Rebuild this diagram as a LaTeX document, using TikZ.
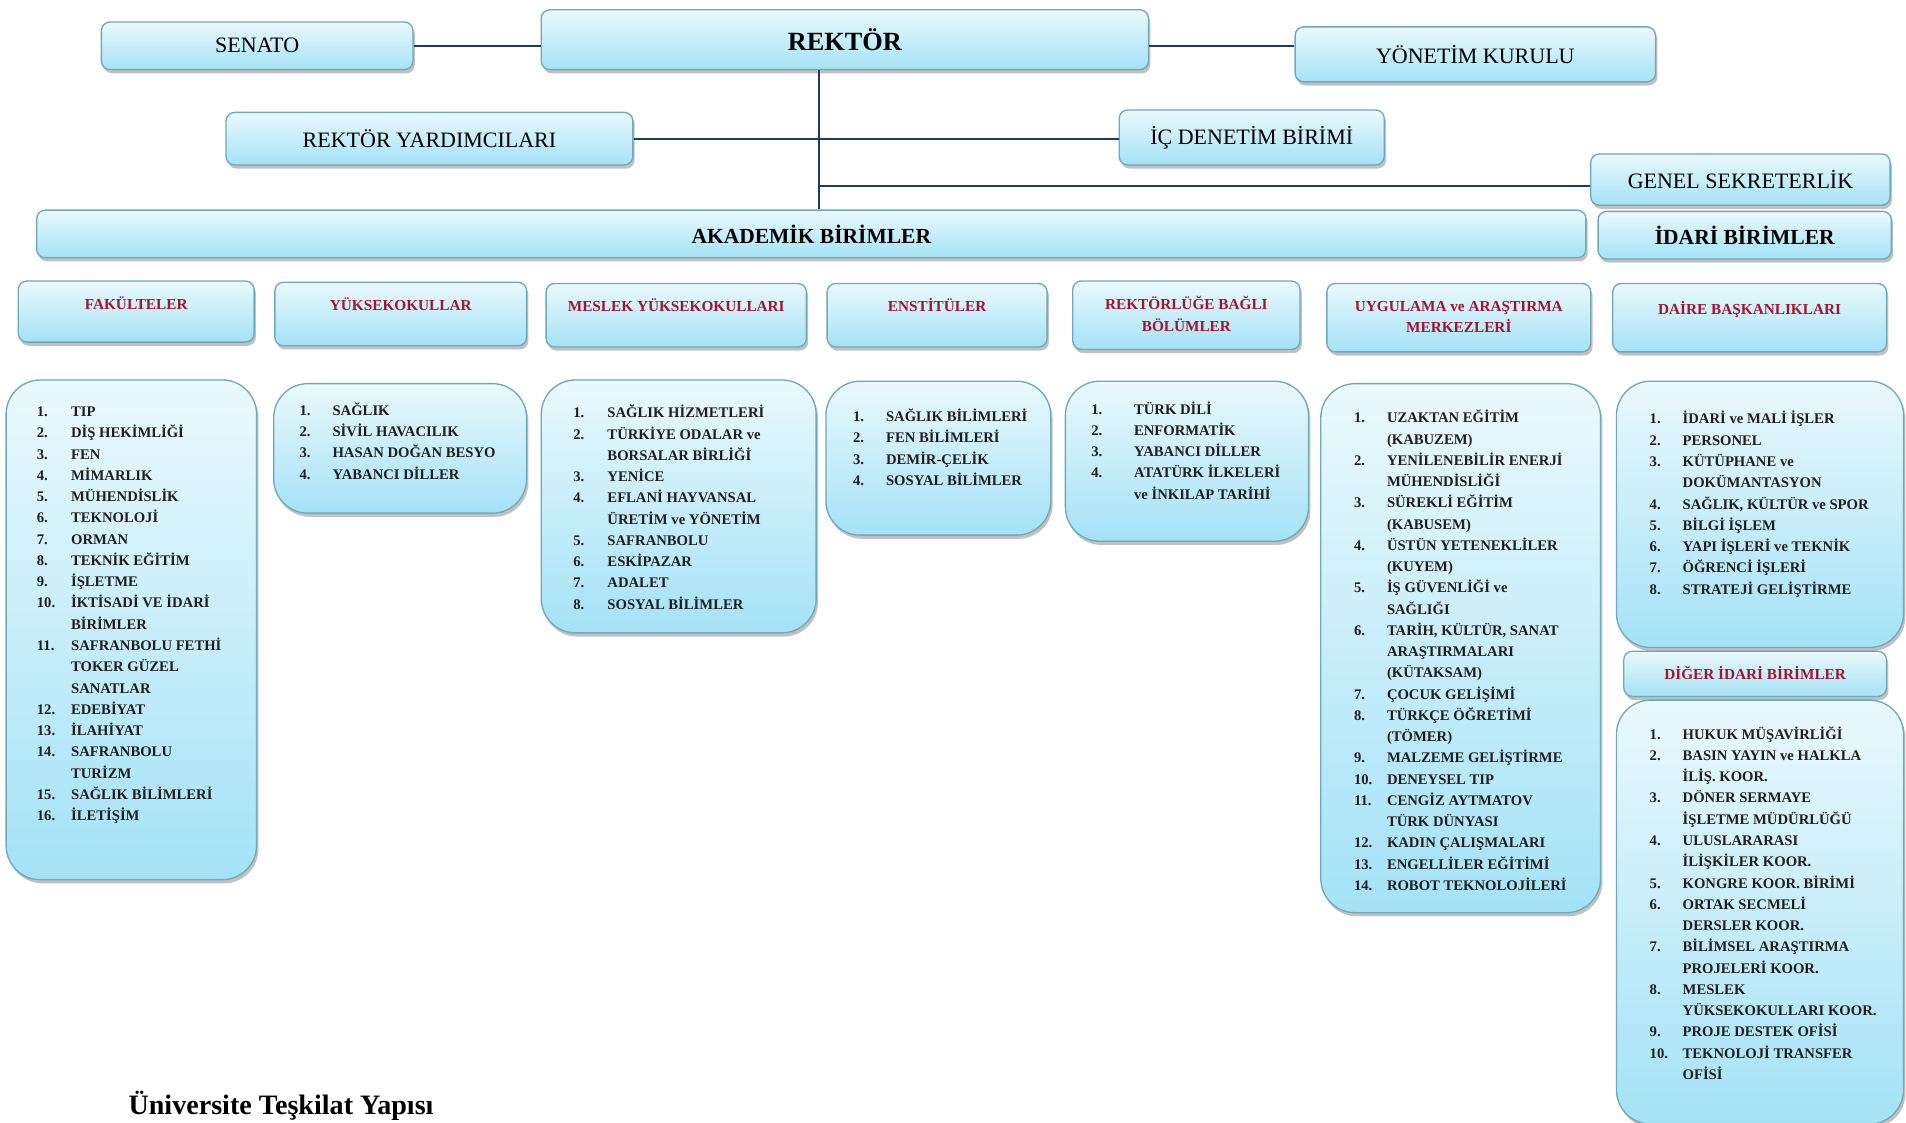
\documentclass[tikz,border=0pt]{standalone}
\usepackage{fontspec}
\setmainfont{Liberation Serif}
\usetikzlibrary{shadows}
\definecolor{boxtop}{HTML}{EAF9FD}
\definecolor{boxbot}{HTML}{A4E2F6}
\definecolor{boxline}{HTML}{6FA9BA}
\definecolor{connc}{HTML}{1F3A64}
\definecolor{hdr}{HTML}{A5142D}
\newlength{\numw}
\newcommand{\nb}[1]{\makebox[\numw][l]{#1}}
\newcommand{\lst}[2]{\setlength{\numw}{#1}\begin{tabular}[t]{@{}l@{}}#2\end{tabular}}
\tikzset{
  box/.style={draw=boxline, line width=1.1pt, top color=boxtop, bottom color=boxbot,
    rounded corners=7pt, inner sep=0pt,
    drop shadow={shadow xshift=1.5pt, shadow yshift=-3pt, opacity=0.4, fill=black!60}},
  listbox/.style={box, rounded corners=28pt},
  conn/.style={draw=connc, line width=1.8pt},
  toptxt/.style={font=\fontsize{18}{20}\selectfont},
  boldtxt/.style={font=\bfseries\fontsize{17.6}{20}\selectfont},
  hdrtxt/.style={text=hdr, font=\bfseries\fontsize{12.5}{17.5}\selectfont, align=center, inner sep=0pt},
  listtxt/.style={anchor=base west, inner sep=0pt, text=black!88, font=\bfseries\fontsize{12}{17.4}\selectfont}
}
\begin{document}
\begin{tikzpicture}[x=1pt,y=-1pt]
\path[fill=white] (0,0) rectangle (1560,919);
\useasboundingbox (0,0) rectangle (1560,919);

% top level
\node[box, toptxt, minimum width=255pt, minimum height=39pt] (senato) at (210.5,37.5) {SENATO};
\node[box, font=\bfseries\fontsize{21.5}{24}\selectfont, minimum width=497pt, minimum height=49pt] (rektor) at (691.5,32.5) {REKTÖR};
\node[box, toptxt, minimum width=295pt, minimum height=45pt] (yk) at (1207.5,44.5) {YÖNETİM KURULU};
\node[box, toptxt, minimum width=333pt, minimum height=43pt] (ry) at (351.5,113.5) {REKTÖR YARDIMCILARI};
\node[box, toptxt, minimum width=217pt, minimum height=45pt] (icd) at (1024.5,112.5) {İÇ DENETİM BİRİMİ};
\node[box, toptxt, minimum width=245pt, minimum height=42pt] (gs) at (1424.5,147) {GENEL SEKRETERLİK};
\node[box, boldtxt, minimum width=1268pt, minimum height=39pt] (akd) at (664,191.5) {AKADEMİK BİRİMLER};
\node[box, boldtxt, minimum width=240pt, minimum height=39pt] (idr) at (1428,192.5) {İDARİ BİRİMLER};

% connectors
\coordinate (trunk) at ([xshift=-21pt]rektor.south);
\draw[conn] (trunk) -- (trunk |- akd.north);
\draw[conn] (senato.east) -- (senato.east -| rektor.west);
\draw[conn] ([yshift=-5pt]rektor.east) -- ([yshift=-5pt]rektor.east -| yk.west);
\draw[conn] (ry.east) -- (ry.east -| icd.west);
\draw[conn] ([yshift=-5pt]gs.west) -- ([yshift=-5pt]gs.west -| trunk);

% header boxes
\node[box, minimum width=193pt, minimum height=50pt] (h1) at (111.5,255) {};
\node[box, minimum width=206pt, minimum height=52pt] (h2) at (328,257) {};
\node[box, minimum width=213pt, minimum height=52pt] (h3) at (553.5,258) {};
\node[box, minimum width=180pt, minimum height=52pt] (h4) at (767,258) {};
\node[box, minimum width=186pt, minimum height=56pt] (h5) at (971,258) {};
\node[box, minimum width=216pt, minimum height=56pt] (h6) at (1194,260) {};
\node[box, minimum width=224pt, minimum height=56pt] (h7) at (1432,260) {};
\node[box, minimum width=215pt, minimum height=37pt] (h8) at (1436.5,551.5) {};

\node[hdrtxt] (h1t) at (111.5,248) {FAKÜLTELER};
\node[hdrtxt] (h2t) at (328,249) {YÜKSEKOKULLAR};
\node[hdrtxt] (h3t) at (553.5,250) {MESLEK YÜKSEKOKULLARI};
\node[hdrtxt] (h4t) at (767,250) {ENSTİTÜLER};
\node[hdrtxt] (h5t) at (971,257) {REKTÖRLÜĞE BAĞLI\\BÖLÜMLER};
\node[hdrtxt] (h6t) at (1194,259.5) {UYGULAMA ve ARAŞTIRMA\\MERKEZLERİ};
\node[hdrtxt] (h7t) at (1432,253) {DAİRE BAŞKANLIKLARI};
\node[hdrtxt] (h8t) at (1436.5,551) {DİĞER İDARİ BİRİMLER};

% list boxes
\node[listbox, minimum width=205pt, minimum height=409pt] (l1) at (107.5,515.5) {};
\node[listbox, minimum width=207pt, minimum height=106pt] (l2) at (327.5,367) {};
\node[listbox, minimum width=225pt, minimum height=207pt] (l3) at (555.5,414.5) {};
\node[listbox, minimum width=184pt, minimum height=126pt] (l4) at (768,375) {};
\node[listbox, minimum width=199pt, minimum height=131pt] (l5) at (971.5,377.5) {};
\node[listbox, minimum width=229pt, minimum height=433pt] (l6) at (1195.5,530.5) {};
\node[listbox, minimum width=235pt, minimum height=218pt] (l7) at (1440.5,421) {};
\node[listbox, minimum width=235pt, minimum height=347pt] (l8) at (1440.5,746.5) {};

\node[listtxt] (l1t) at (30,341) {\lst{28pt}{%
\nb{1.}TIP\\ \nb{2.}DİŞ HEKİMLİĞİ\\ \nb{3.}FEN\\ \nb{4.}MİMARLIK\\ \nb{5.}MÜHENDİSLİK\\
\nb{6.}TEKNOLOJİ\\ \nb{7.}ORMAN\\ \nb{8.}TEKNİK EĞİTİM\\ \nb{9.}İŞLETME\\
\nb{10.}İKTİSADİ VE İDARİ\\ \nb{}BİRİMLER\\ \nb{11.}SAFRANBOLU FETHİ\\ \nb{}TOKER GÜZEL\\ \nb{}SANATLAR\\
\nb{12.}EDEBİYAT\\ \nb{13.}İLAHİYAT\\ \nb{14.}SAFRANBOLU\\ \nb{}TURİZM\\ \nb{15.}SAĞLIK BİLİMLERİ\\ \nb{16.}İLETİŞİM}};

\node[listtxt] (l2t) at (245,340) {\lst{27pt}{%
\nb{1.}SAĞLIK\\ \nb{2.}SİVİL HAVACILIK\\ \nb{3.}HASAN DOĞAN BESYO\\ \nb{4.}YABANCI DİLLER}};

\node[listtxt] (l3t) at (469,342) {\lst{28pt}{%
\nb{1.}SAĞLIK HİZMETLERİ\\ \nb{2.}TÜRKİYE ODALAR ve\\ \nb{}BORSALAR BİRLİĞİ\\ \nb{3.}YENİCE\\
\nb{4.}EFLANİ HAYVANSAL\\ \nb{}ÜRETİM ve YÖNETİM\\ \nb{5.}SAFRANBOLU\\ \nb{6.}ESKİPAZAR\\ \nb{7.}ADALET\\ \nb{8.}SOSYAL BİLİMLER}};

\node[listtxt] (l4t) at (698,345) {\lst{27pt}{%
\nb{1.}SAĞLIK BİLİMLERİ\\ \nb{2.}FEN BİLİMLERİ\\ \nb{3.}DEMİR-ÇELİK\\ \nb{4.}SOSYAL BİLİMLER}};

\node[listtxt] (l5t) at (893,339) {\lst{35pt}{%
\nb{1.}TÜRK DİLİ\\ \nb{2.}ENFORMATİK\\ \nb{3.}YABANCI DİLLER\\ \nb{4.}ATATÜRK İLKELERİ\\ \nb{}ve İNKILAP TARİHİ}};

\node[listtxt] (l6t) at (1108,346) {\lst{27pt}{%
\nb{1.}UZAKTAN EĞİTİM\\ \nb{}(KABUZEM)\\ \nb{2.}YENİLENEBİLİR ENERJİ\\ \nb{}MÜHENDİSLİĞİ\\
\nb{3.}SÜREKLİ EĞİTİM\\ \nb{}(KABUSEM)\\ \nb{4.}ÜSTÜN YETENEKLİLER\\ \nb{}(KUYEM)\\
\nb{5.}İŞ GÜVENLİĞİ ve\\ \nb{}SAĞLIĞI\\ \nb{6.}TARİH, KÜLTÜR, SANAT\\ \nb{}ARAŞTIRMALARI\\ \nb{}(KÜTAKSAM)\\
\nb{7.}ÇOCUK GELİŞİMİ\\ \nb{8.}TÜRKÇE ÖĞRETİMİ\\ \nb{}(TÖMER)\\ \nb{9.}MALZEME GELİŞTİRME\\
\nb{10.}DENEYSEL TIP\\ \nb{11.}CENGİZ AYTMATOV\\ \nb{}TÜRK DÜNYASI\\ \nb{12.}KADIN ÇALIŞMALARI\\
\nb{13.}ENGELLİLER EĞİTİMİ\\ \nb{14.}ROBOT TEKNOLOJİLERİ}};

\node[listtxt] (l7t) at (1350,347) {\lst{27pt}{%
\nb{1.}İDARİ ve MALİ İŞLER\\ \nb{2.}PERSONEL\\ \nb{3.}KÜTÜPHANE ve\\ \nb{}DOKÜMANTASYON\\
\nb{4.}SAĞLIK, KÜLTÜR ve SPOR\\ \nb{5.}BİLGİ İŞLEM\\ \nb{6.}YAPI İŞLERİ ve TEKNİK\\ \nb{7.}ÖĞRENCİ İŞLERİ\\ \nb{8.}STRATEJİ GELİŞTİRME}};

\node[listtxt] (l8t) at (1350,605) {\lst{27pt}{%
\nb{1.}HUKUK MÜŞAVİRLİĞİ\\ \nb{2.}BASIN YAYIN ve HALKLA\\ \nb{}İLİŞ. KOOR.\\ \nb{3.}DÖNER SERMAYE\\ \nb{}İŞLETME MÜDÜRLÜĞÜ\\
\nb{4.}ULUSLARARASI\\ \nb{}İLİŞKİLER KOOR.\\ \nb{5.}KONGRE KOOR. BİRİMİ\\ \nb{6.}ORTAK SECMELİ\\ \nb{}DERSLER KOOR.\\
\nb{7.}BİLİMSEL ARAŞTIRMA\\ \nb{}PROJELERİ KOOR.\\ \nb{8.}MESLEK\\ \nb{}YÜKSEKOKULLARI KOOR.\\ \nb{9.}PROJE DESTEK OFİSİ\\
\nb{10.}TEKNOLOJİ TRANSFER\\ \nb{}OFİSİ}};

\node[anchor=base west, inner sep=0pt, font=\bfseries\fontsize{23}{26}\selectfont] (title) at (105,912) {Üniversite Teşkilat Yapısı};
\end{tikzpicture}
\end{document}
